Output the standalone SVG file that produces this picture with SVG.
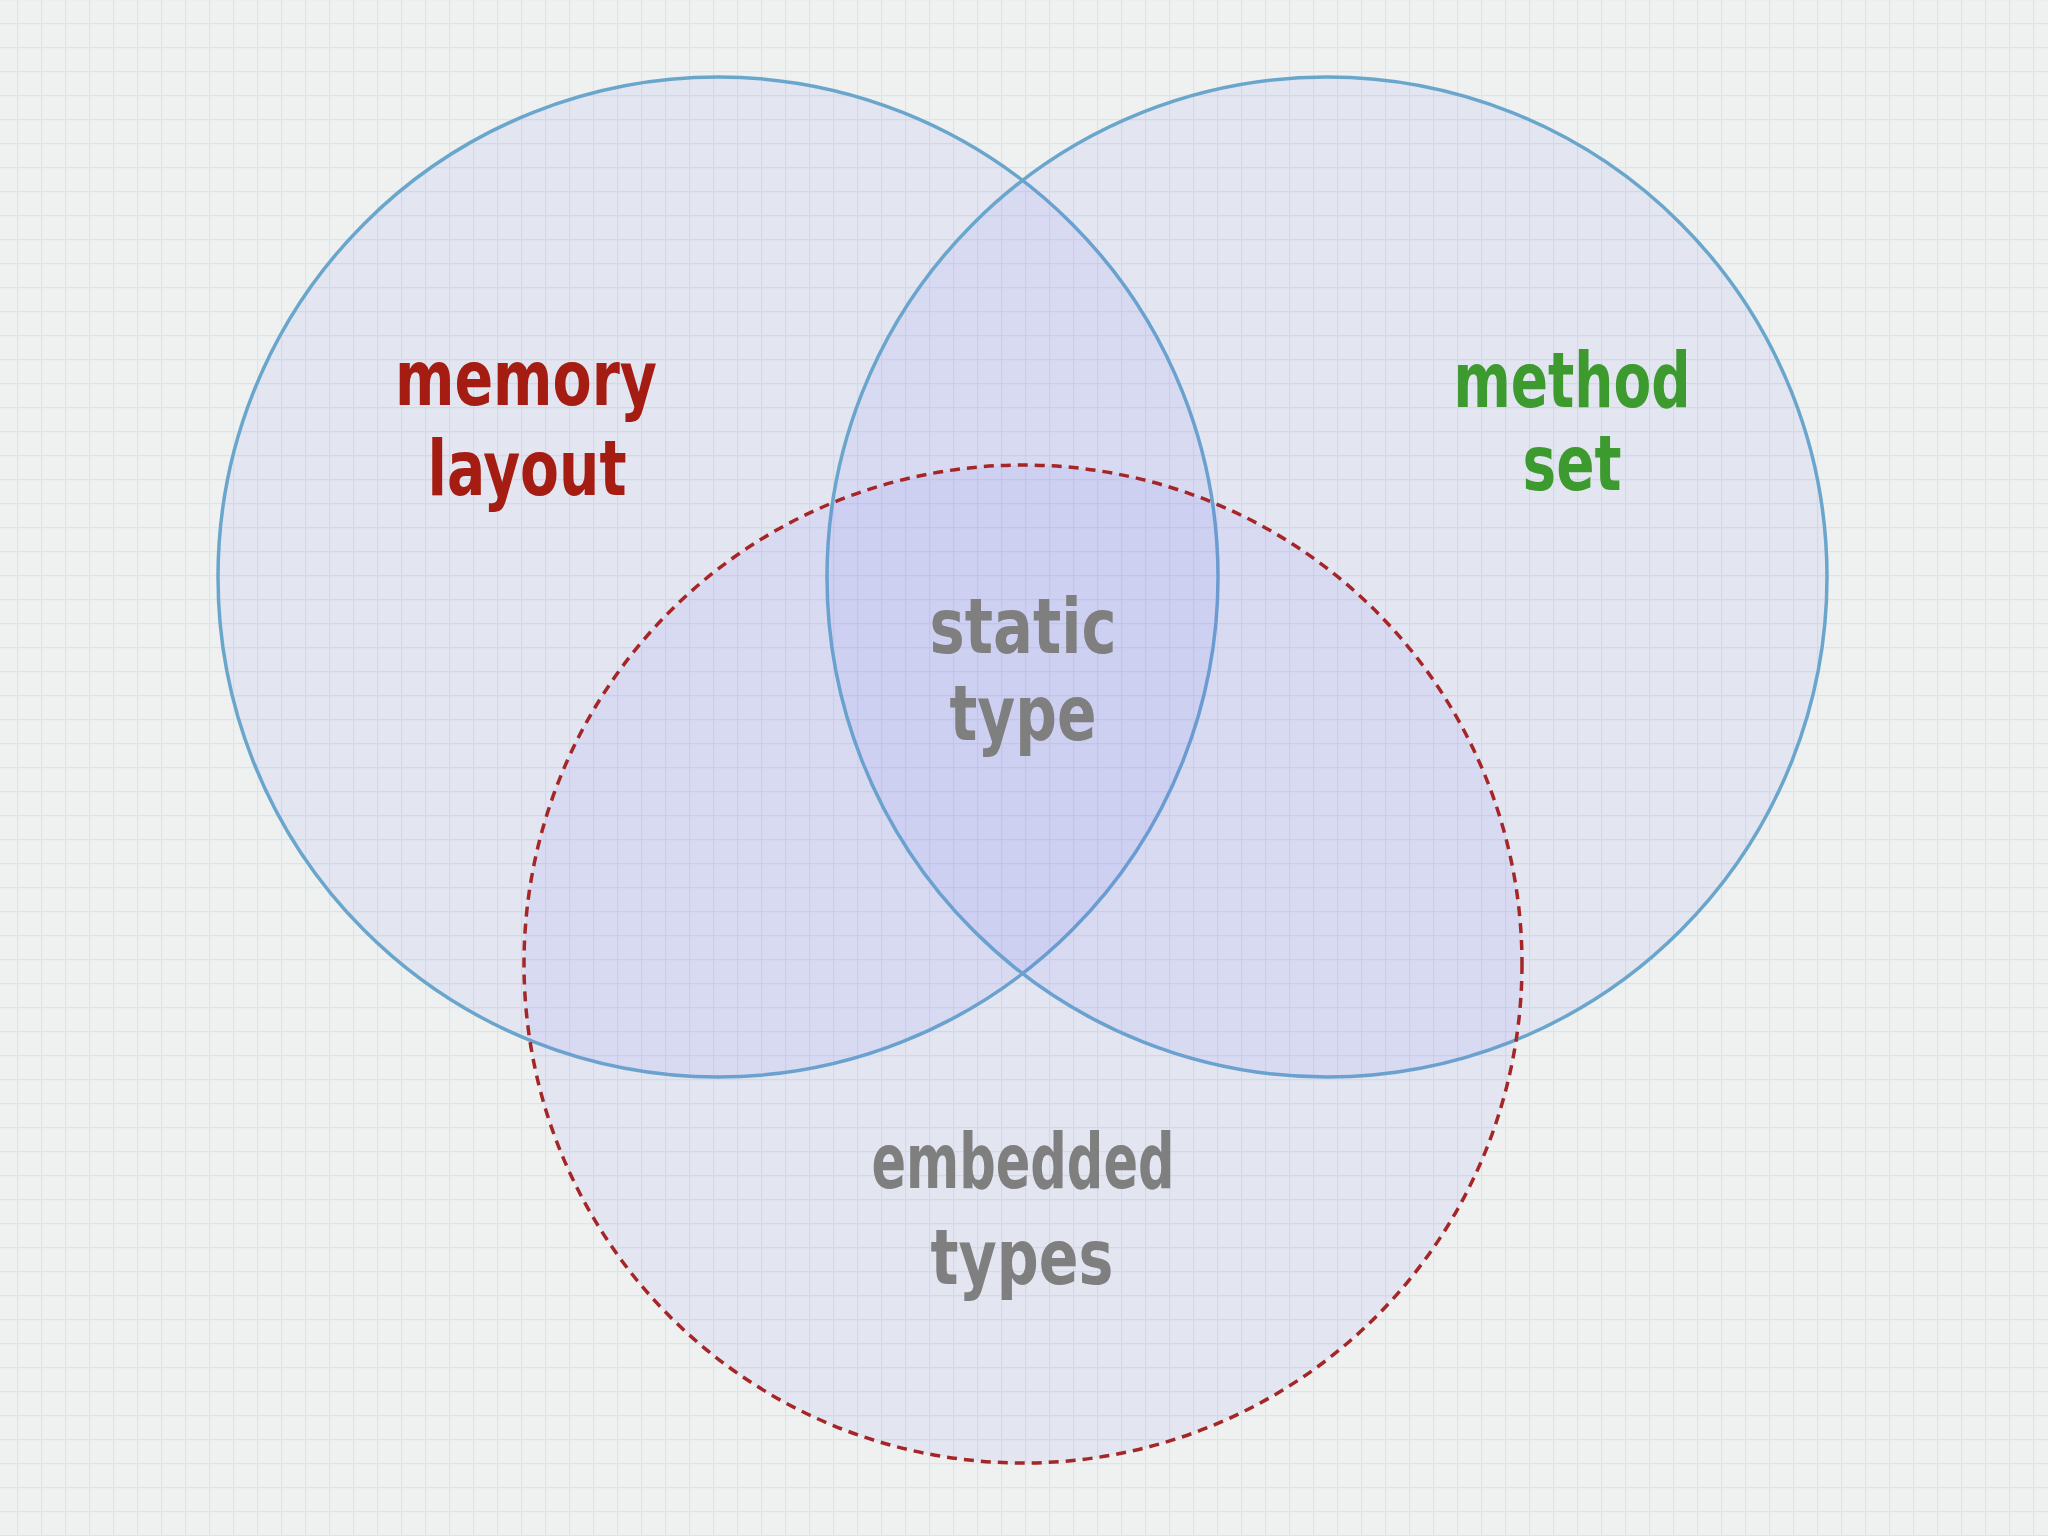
<svg xmlns="http://www.w3.org/2000/svg" width="2048" height="1536" viewBox="0 0 2048 1536">
<defs>
<pattern id="grid" x="17" y="23" width="24" height="24" patternUnits="userSpaceOnUse">
<path d="M0 0.5H24M0.5 0V24" fill="none" stroke="#dbe4e6" stroke-width="1.3"/>
</pattern>
<style>
.set{fill:#6e6ef0;fill-opacity:0.09}
.solid{stroke:#6aa6cc;stroke-width:3.5}
.dash{fill:#6e6ef0;fill-opacity:0.09;stroke:#a52626;stroke-width:3.5;stroke-dasharray:10 7}
.lbl{font-family:"DejaVu Sans Condensed","Liberation Sans Narrow","DejaVu Sans",sans-serif;font-weight:bold;font-size:76px;text-anchor:middle}
.red{fill:#a51c12}
.green{fill:#3c9a2e}
.gray{fill:#7f7f7f}
</style>
</defs>
<rect width="2048" height="1536" fill="#eff1f1"/>
<rect width="2048" height="1536" fill="url(#grid)"/>
<g id="memory-layout">
<circle cx="718" cy="577" r="500" class="set solid"/>
<text class="lbl red" x="526" y="405" textLength="262" lengthAdjust="spacingAndGlyphs">memory</text>
<text class="lbl red" x="527" y="495" textLength="199" lengthAdjust="spacingAndGlyphs">layout</text>
</g>
<g id="method-set">
<circle cx="1327" cy="577" r="500" class="set solid"/>
<text class="lbl green" x="1572" y="407" textLength="237" lengthAdjust="spacingAndGlyphs">method</text>
<text class="lbl green" x="1572" y="490" textLength="99" lengthAdjust="spacingAndGlyphs">set</text>
</g>
<g id="embedded-types">
<circle cx="1023" cy="964" r="499" class="dash"/>
<text class="lbl gray" x="1023" y="1188" textLength="303" lengthAdjust="spacingAndGlyphs">embedded</text>
<text class="lbl gray" x="1022" y="1284" textLength="183" lengthAdjust="spacingAndGlyphs">types</text>
</g>
<g id="static-type">
<text class="lbl gray" x="1023" y="653" textLength="187" lengthAdjust="spacingAndGlyphs">static</text>
<text class="lbl gray" x="1023" y="740" textLength="147" lengthAdjust="spacingAndGlyphs">type</text>
</g>
<g id="connectors"/>
</svg>
